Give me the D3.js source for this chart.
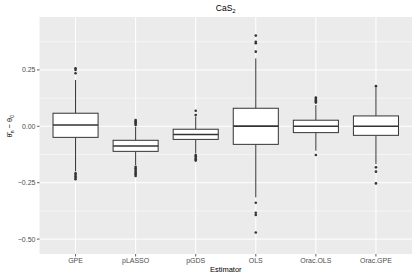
<!DOCTYPE html>
<html>
<head>
<meta charset="utf-8">
<script src="https://cdn.jsdelivr.net/npm/d3@7"></script>
<style>
  body { margin: 0; background: #fff; }
  text { font-family: "Liberation Sans", Arial, sans-serif; }
</style>
</head>
<body>
<svg></svg>
<script>
let width = 415;
let height = 277;

// estimators and box statistics
let estimators = ['GPE', 'pLASSO', 'pGDS', 'OLS', 'Orac.OLS', 'Orac.GPE'];
let lowerWhisker = [-0.200, -0.172, -0.120, -0.315, -0.108, -0.167];
let q1 = [-0.049, -0.111, -0.058, -0.080, -0.028, -0.040];
let medians = [0.006, -0.087, -0.036, 0.001, 0.000, 0.000];
let q3 = [0.058, -0.062, -0.013, 0.080, 0.027, 0.046];
let upperWhisker = [0.205, -0.002, 0.043, 0.301, 0.094, 0.172];
let outliers = [
    [0.257, 0.250, 0.235, -0.208, -0.215, -0.222, -0.228, -0.235],
    [0.028, 0.022, 0.017, 0.012, 0.006, -0.179, -0.186, -0.193, -0.200, -0.207, -0.213, -0.220],
    [0.069, 0.050, -0.127, -0.133, -0.140, -0.146, -0.152],
    [0.402, 0.375, 0.368, 0.331, -0.339, -0.383, -0.393, -0.471],
    [0.128, 0.122, 0.116, 0.110, 0.105, -0.127],
    [0.178, -0.182, -0.201, -0.253]
];
let yTicks = [-0.50, -0.25, 0.00, 0.25];
let yMinor = [-0.375, -0.125, 0.125, 0.375];

let margin = {top: 17, right: 3, bottom: 23, left: 39.5};

let svg = d3.select('svg')
    .attr('width', width)
    .attr('height', height)

let x = d3.scaleBand()
    .domain(estimators)
    .range([margin.left, width - margin.right])
    .paddingOuter(0.1)
    .paddingInner(0)

let y = d3.scaleLinear()
    .domain([-0.566, 0.4845])
    .range([height - margin.bottom, margin.top])

let cx = d => x(d) + x.bandwidth() / 2;

svg.append('rect')
    .attr('x', margin.left)
    .attr('y', margin.top)
    .attr('width', width - margin.right - margin.left)
    .attr('height', height - margin.bottom - margin.top)
    .attr('fill', '#EBEBEB')

let grid = svg.append('g')
grid.selectAll('.minor')
    .data(yMinor)
    .enter()
    .append('line')
    .attr('x1', margin.left)
    .attr('x2', width - margin.right)
    .attr('y1', d => y(d))
    .attr('y2', d => y(d))
    .attr('stroke', '#fff')
    .attr('stroke-width', 0.5)
grid.selectAll('.major')
    .data(yTicks)
    .enter()
    .append('line')
    .attr('x1', margin.left)
    .attr('x2', width - margin.right)
    .attr('y1', d => y(d))
    .attr('y2', d => y(d))
    .attr('stroke', '#fff')
    .attr('stroke-width', 1)
grid.selectAll('.vert')
    .data(estimators)
    .enter()
    .append('line')
    .attr('x1', cx)
    .attr('x2', cx)
    .attr('y1', margin.top)
    .attr('y2', height - margin.bottom)
    .attr('stroke', '#fff')
    .attr('stroke-width', 1)

let boxW = x.bandwidth() * 0.75;
let boxes = svg.append('g')
    .selectAll('g')
    .data(estimators)
    .enter()
    .append('g')

boxes.append('line')
    .attr('x1', cx)
    .attr('x2', cx)
    .attr('y1', (d, i) => y(upperWhisker[i]))
    .attr('y2', (d, i) => y(q3[i]))
    .attr('stroke', '#333')
    .attr('stroke-width', 1)
boxes.append('line')
    .attr('x1', cx)
    .attr('x2', cx)
    .attr('y1', (d, i) => y(q1[i]))
    .attr('y2', (d, i) => y(lowerWhisker[i]))
    .attr('stroke', '#333')
    .attr('stroke-width', 1)
boxes.append('rect')
    .attr('x', d => cx(d) - boxW / 2)
    .attr('width', boxW)
    .attr('y', (d, i) => y(q3[i]))
    .attr('height', (d, i) => y(q1[i]) - y(q3[i]))
    .attr('fill', '#fff')
    .attr('stroke', '#333')
    .attr('stroke-width', 1)
boxes.append('line')
    .attr('x1', d => cx(d) - boxW / 2)
    .attr('x2', d => cx(d) + boxW / 2)
    .attr('y1', (d, i) => y(medians[i]))
    .attr('y2', (d, i) => y(medians[i]))
    .attr('stroke', '#333')
    .attr('stroke-width', 1.6)
boxes.each(function (d, i) {
    d3.select(this).selectAll('circle')
        .data(outliers[i])
        .enter()
        .append('circle')
        .attr('cx', cx(d))
        .attr('cy', v => y(v))
        .attr('r', 1.3)
        .attr('fill', '#333')
})

// axes
let yAxis = svg.append('g')
yAxis.selectAll('line')
    .data(yTicks)
    .enter()
    .append('line')
    .attr('x1', margin.left - 2.5)
    .attr('x2', margin.left)
    .attr('y1', d => y(d))
    .attr('y2', d => y(d))
    .attr('stroke', '#333')
    .attr('stroke-width', 0.8)
yAxis.selectAll('text')
    .data(yTicks)
    .enter()
    .append('text')
    .attr('x', margin.left - 4)
    .attr('y', d => y(d))
    .attr('dy', '0.35em')
    .attr('text-anchor', 'end')
    .attr('font-size', 7)
    .attr('fill', '#4D4D4D')
    .text(d => d3.format('.2f')(d).replace('-', '\u2212'))

let xAxis = svg.append('g')
xAxis.selectAll('line')
    .data(estimators)
    .enter()
    .append('line')
    .attr('x1', cx)
    .attr('x2', cx)
    .attr('y1', height - margin.bottom)
    .attr('y2', height - margin.bottom + 2.5)
    .attr('stroke', '#333')
    .attr('stroke-width', 0.8)
xAxis.selectAll('text')
    .data(estimators)
    .enter()
    .append('text')
    .attr('x', cx)
    .attr('y', height - margin.bottom + 9)
    .attr('text-anchor', 'middle')
    .attr('font-size', 7)
    .attr('fill', '#4D4D4D')
    .text(d => d)

svg.append('text')
    .attr('x', (margin.left + width - margin.right) / 2)
    .attr('y', 272)
    .attr('text-anchor', 'middle')
    .attr('font-size', 7.5)
    .attr('fill', '#000')
    .text('Estimator')

let title = svg.append('text')
    .attr('x', (margin.left + width - margin.right) / 2)
    .attr('y', 11)
    .attr('text-anchor', 'middle')
    .attr('font-size', 8.5)
    .attr('fill', '#000')
title.append('tspan').text('CaS')
title.append('tspan').attr('font-size', 6).attr('dy', 2).text('2')

let ylab = svg.append('text')
    .attr('transform', 'translate(12,' + y(0) + ') rotate(-90)')
    .attr('text-anchor', 'middle')
    .attr('font-size', 7.5)
    .attr('fill', '#000')
ylab.append('tspan').text('\u03B8\u0302')
ylab.append('tspan').attr('font-size', 5).attr('dy', 1.5).text('n')
ylab.append('tspan').attr('dy', -1.5).text(' \u2212 \u03B8')
ylab.append('tspan').attr('font-size', 5).attr('dy', 1.5).text('0')
</script>
</body>
</html>
